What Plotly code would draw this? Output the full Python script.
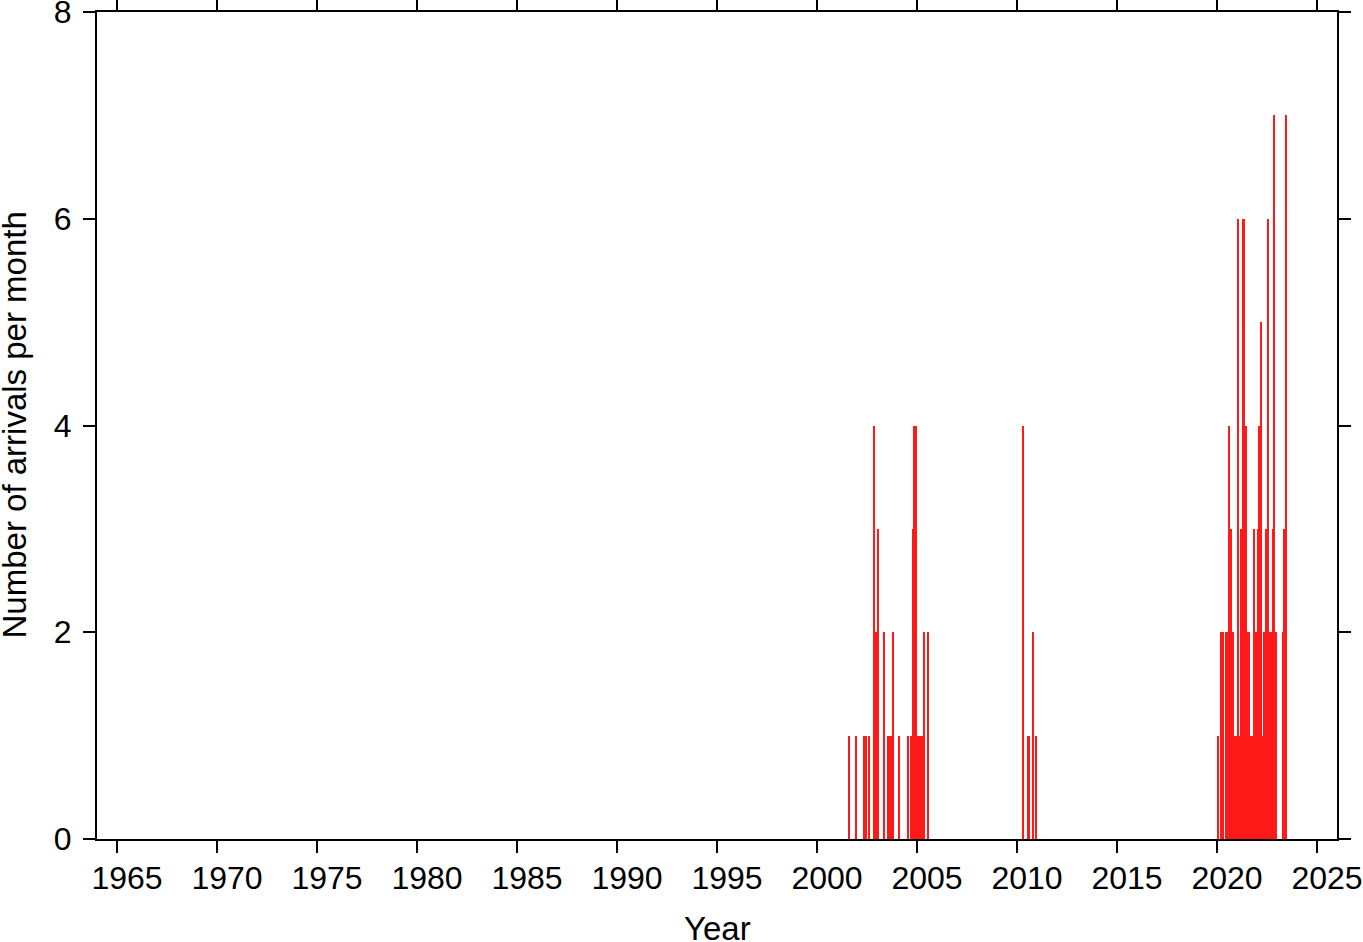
import plotly.graph_objects as go

# Months since January 1965 (index k) and number of arrivals in that month
month_index = [
    439, 443, 448, 449, 451, 454, 455, 456, 460, 462, 463, 464, 465, 469,
    474, 476, 477, 478, 479, 480, 481, 482, 483, 484, 486,
    543, 546, 547, 549, 551,
    660, 662, 663, 665, 666, 667, 668, 669, 670, 671, 672, 673, 674, 675,
    676, 677, 678, 679, 680, 681, 682, 683, 684, 685, 686, 687, 688, 689,
    690, 691, 692, 693, 694, 695, 699, 700, 701,
]
arrivals = [
    1, 1, 1, 1, 1, 4, 2, 3, 2, 1, 1, 1, 2, 1,
    1, 1, 3, 4, 4, 1, 1, 1, 1, 2, 2,
    4, 1, 1, 2, 1,
    1, 2, 2, 2, 2, 4, 3, 2, 1, 1, 6, 1, 3, 6,
    6, 4, 2, 2, 1, 1, 3, 2, 3, 4, 5, 1, 2, 3,
    6, 2, 2, 3, 7, 2, 2, 3, 7,
]
start_year = 1965
x_ticks = [1965, 1970, 1975, 1980, 1985, 1990, 1995, 2000, 2005, 2010, 2015, 2020, 2025]
y_ticks = [0, 2, 4, 6, 8]
x_title = "Year"
y_title = "Number of arrivals per month"

decimal_year = [start_year + (k + 0.5) / 12 for k in month_index]

fig = go.Figure()
fig.add_trace(go.Bar(
    x=decimal_year,
    y=arrivals,
    width=0.062,
    marker=dict(color="#ff1a1a", line=dict(width=0)),
    showlegend=False,
))

font_family = "Liberation Sans, Arial, Helvetica, sans-serif"
axis_common = dict(
    showline=True, linecolor="black", linewidth=2,
    mirror="ticks", ticks="outside", ticklen=12, tickwidth=1.5, tickcolor="black",
    showgrid=False, zeroline=False, automargin=False,
    ticklabeloverflow="allow",
    tickfont=dict(family=font_family, size=32, color="black"),
)
title_font = dict(family=font_family, size=33, color="black")

fig.update_layout(
    width=1363, height=942,
    margin=dict(l=97, r=26, t=12, b=103),
    paper_bgcolor="white", plot_bgcolor="white",
    bargap=0,
    xaxis=dict(
        range=[1964, 2026], tickvals=x_ticks, ticktext=[str(v) for v in x_ticks],
        ticklabelstandoff=-2, ticklabelshift=10,
        **axis_common,
    ),
    yaxis=dict(
        range=[0, 8], tickvals=y_ticks, ticktext=[str(v) for v in y_ticks],
        ticklabelstandoff=5,
        **axis_common,
    ),
    annotations=[
        dict(text=x_title, xref="paper", yref="paper", x=0.5, y=0,
             xanchor="center", yanchor="middle", yshift=-89,
             showarrow=False, font=title_font),
        dict(text=y_title, xref="paper", yref="paper", x=0, y=0.5,
             xanchor="center", yanchor="middle", xshift=-83, textangle=-90,
             showarrow=False, font=title_font),
    ],
)

fig.write_html("out.html", config={"displayModeBar": False},
               post_script="document.body.style.margin='0';")
